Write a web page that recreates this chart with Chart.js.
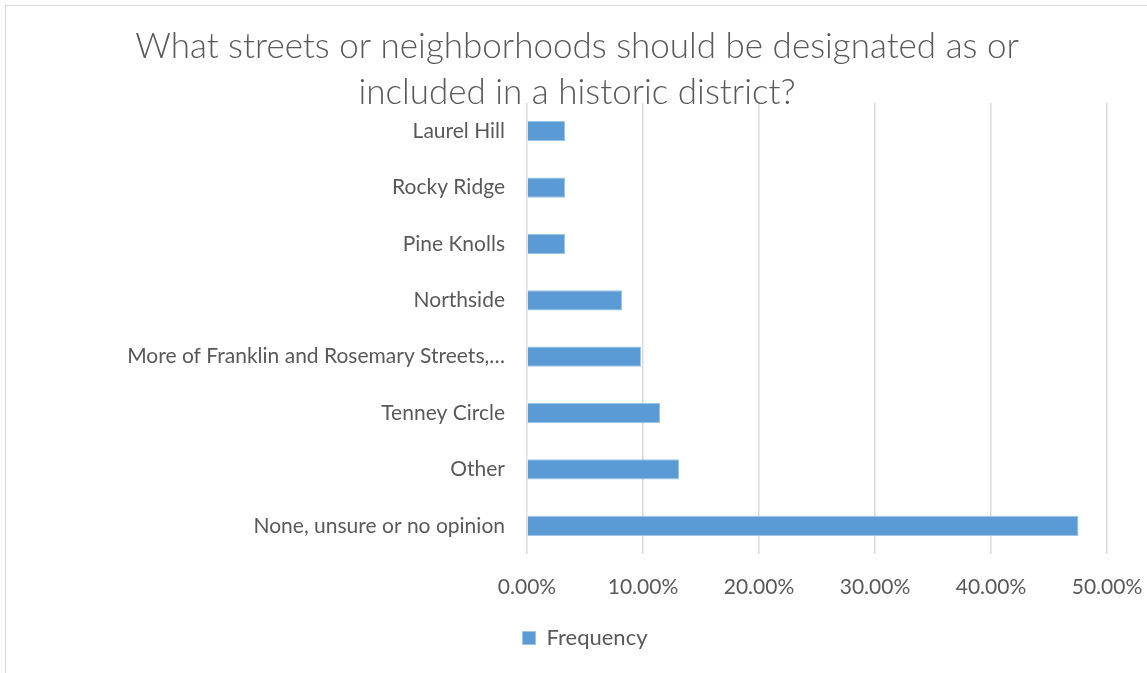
<!DOCTYPE html>
<html lang="en">
<head>
    <meta charset="UTF-8">
    <title>Historic district</title>
    <style type="text/css">
        html, body { margin: 0; padding: 0; background: #fff; }
        .chartBox { width: 1147px; height: 673px; }
    </style>
</head>
<body>
    <div class="chartBox">
        <canvas id="myChart" width="1147" height="673"></canvas>
    </div>

    <script src="https://cdn.jsdelivr.net/npm/chart.js"></script>
    <script>
    // data block
    const titleLines = ['What streets or neighborhoods should be designated as or', 'included in a historic district?'];
    const categories = [
        'Laurel Hill',
        'Rocky Ridge',
        'Pine Knolls',
        'Northside',
        'More of Franklin and Rosemary Streets,\u2026',
        'Tenney Circle',
        'Other',
        'None, unsure or no opinion'
    ];
    const frequency = [3.28, 3.28, 3.28, 8.20, 9.84, 11.48, 13.11, 47.54];
    const seriesName = 'Frequency';

    const fontFamily = 'Lato, "Open Sans", sans-serif';
    const textColor = '#595959';

    // title + frame drawn on the canvas
    const frameAndTitle = {
        id: 'frameAndTitle',
        beforeDraw(chart) {
            const ctx = chart.ctx;
            ctx.save();
            ctx.strokeStyle = '#d9d9d9';
            ctx.lineWidth = 1;
            ctx.strokeRect(5.5, 5.5, 1200, 700);
            ctx.restore();
        },
        afterDraw(chart) {
            const ctx = chart.ctx;
            ctx.save();
            ctx.fillStyle = textColor;
            ctx.font = '300 35px ' + fontFamily;
            ctx.textAlign = 'center';
            ctx.textBaseline = 'middle';
            titleLines.forEach((t, i) => ctx.fillText(t, 577, 47 + i * 46));
            ctx.restore();
        }
    };

    const data = {
        labels: categories,
        datasets: [{
            label: seriesName,
            data: frequency,
            backgroundColor: '#5b9bd5',
            borderColor: '#9dc3e6',
            borderWidth: 1,
            barPercentage: 0.36,
            categoryPercentage: 1
        }]
    };

    const config = {
        type: 'bar',
        data,
        plugins: [frameAndTitle],
        options: {
            indexAxis: 'y',
            responsive: false,
            animation: false,
            layout: {
                padding: { top: 103, left: 63, right: 40, bottom: 14 }
            },
            plugins: {
                title: { display: false },
                tooltip: { enabled: false },
                legend: {
                    position: 'bottom',
                    labels: {
                        color: textColor,
                        font: { family: fontFamily, size: 22 },
                        boxWidth: 13,
                        boxHeight: 13,
                        padding: 18
                    }
                }
            },
            scales: {
                y: {
                    afterFit: scale => { scale.width = 464; },
                    grid: { display: false, drawTicks: false },
                    border: { display: false },
                    ticks: {
                        color: textColor,
                        font: { family: fontFamily, size: 21 },
                        padding: 22,
                        autoSkip: false
                    }
                },
                x: {
                    min: 0,
                    max: 50,
                    afterFit: scale => {
                        scale.height = 55;
                        scale.paddingLeft = 0;
                        scale.paddingRight = 0;
                    },
                    grid: {
                        color: '#d9d9d9',
                        lineWidth: 1.5,
                        drawTicks: false
                    },
                    border: { display: false },
                    ticks: {
                        stepSize: 10,
                        color: textColor,
                        font: { family: fontFamily, size: 21 },
                        padding: 21,
                        callback: v => v.toFixed(2) + '%'
                    }
                }
            }
        }
    };

    const myChart = new Chart(
        document.getElementById('myChart'),
        config
    );
    </script>
</body>
</html>
